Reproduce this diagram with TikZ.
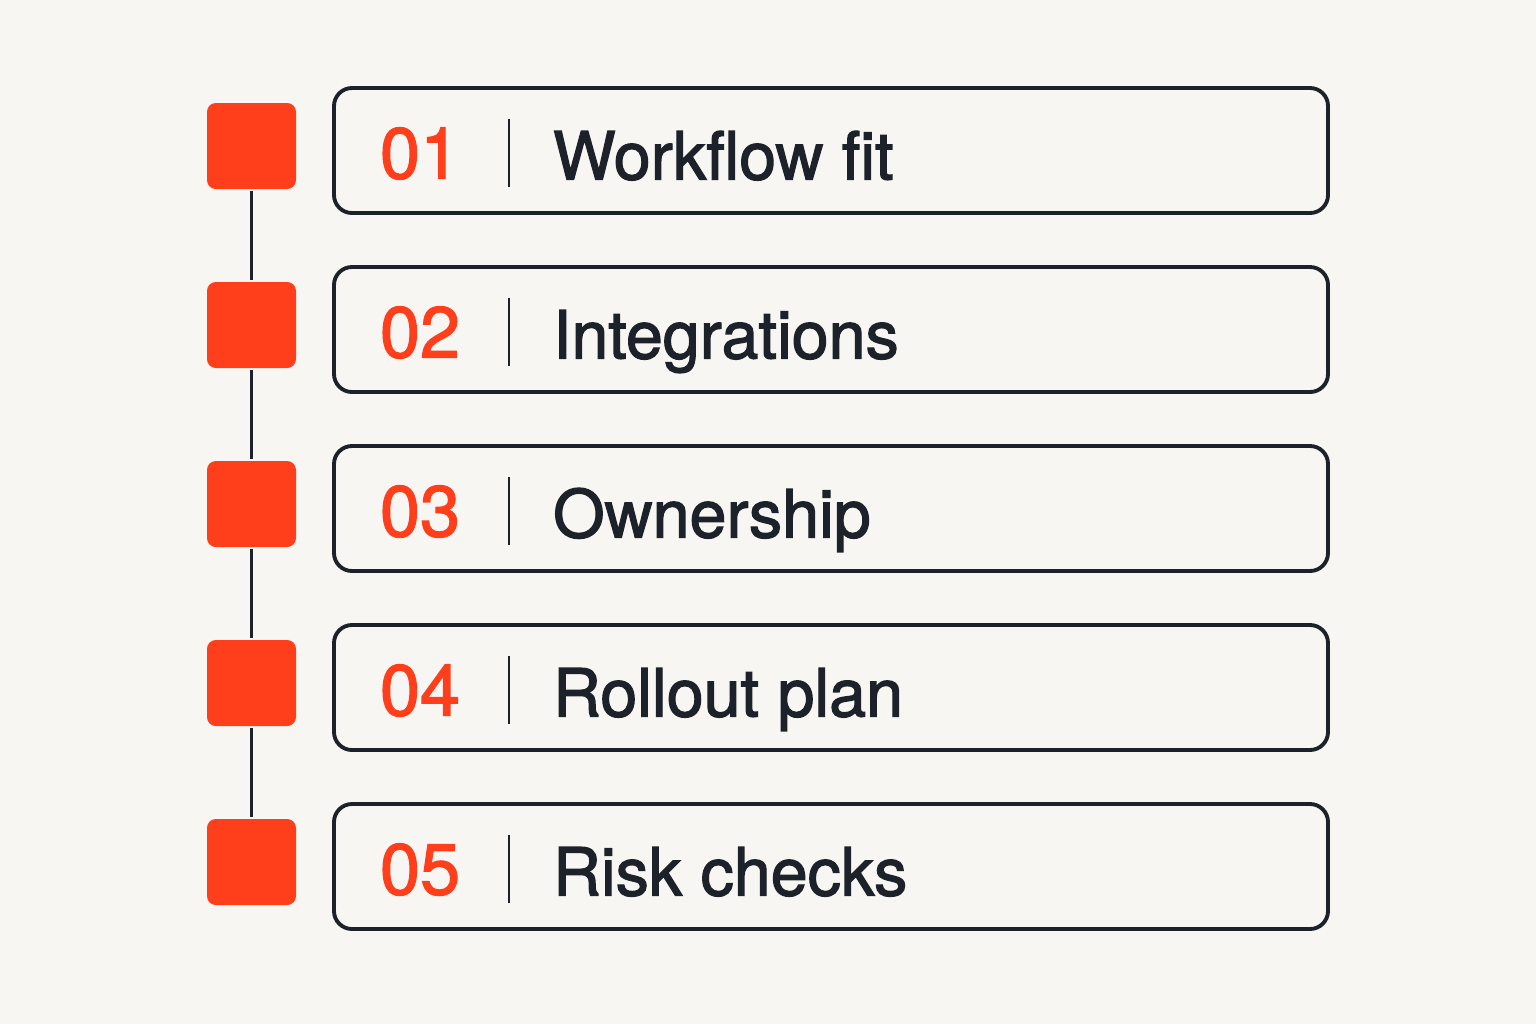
\documentclass[tikz,border=0pt]{standalone}
\usepackage{fontspec}
\setmainfont{TeX Gyre Heros}[Ligatures=NoCommon, FakeBold=1.8]
\usetikzlibrary{positioning}
\definecolor{bgpaper}{HTML}{F8F6F2}
\definecolor{accent}{HTML}{FF3F1C}
\definecolor{ink}{HTML}{1D222A}
\begin{document}
\begin{tikzpicture}[auto, line width=1.1pt, marker node/.style={rectangle, rounded corners=2.5pt, fill=accent, minimum width=.89cm, minimum height=.86cm}, item node/.style={rectangle, draw=ink, rounded corners=.18cm, minimum width=9.94cm, minimum height=1.25cm}, num node/.style={inner sep=0pt, anchor=base, text=accent, font=\fontsize{20.5}{24}\selectfont}, label node/.style={inner sep=0pt, anchor=base west, text=ink, font=\fontsize{18.9}{24}\selectfont}]
\fill[bgpaper] (0,0) rectangle (15.36,-10.24);
\useasboundingbox (0,0) rectangle (15.36,-10.24);
\foreach \i/\n/\t in {1/01/Workflow fit, 2/02/Integrations, 3/03/Ownership, 4/04/Rollout plan, 5/05/Risk checks}{
    \node[item node] (item\i) at (8.31,{-1.505-(\i-1)*1.79}) {};
    \node[marker node] (mark\i) at (2.515,{-1.46-(\i-1)*1.79}) {};
    \node[num node] (num\i) at ([xshift=.88cm, yshift=-.28cm]item\i.west) {\n};
    \node[label node] (label\i) at ([xshift=2.19cm, yshift=-.29cm]item\i.west) {\t};
    \coordinate (sepa\i) at ([xshift=1.77cm, yshift=.32cm]item\i.west);
    \coordinate (sepb\i) at ([xshift=1.77cm, yshift=-.36cm]item\i.west);
    \draw[ink, line width=.75pt] (sepa\i) -- (sepb\i);}
\foreach \s/\t in {1/2, 2/3, 3/4, 4/5}{
    \draw[ink, line width=.75pt] (mark\s) -- (mark\t);}
\end{tikzpicture}
\end{document}
